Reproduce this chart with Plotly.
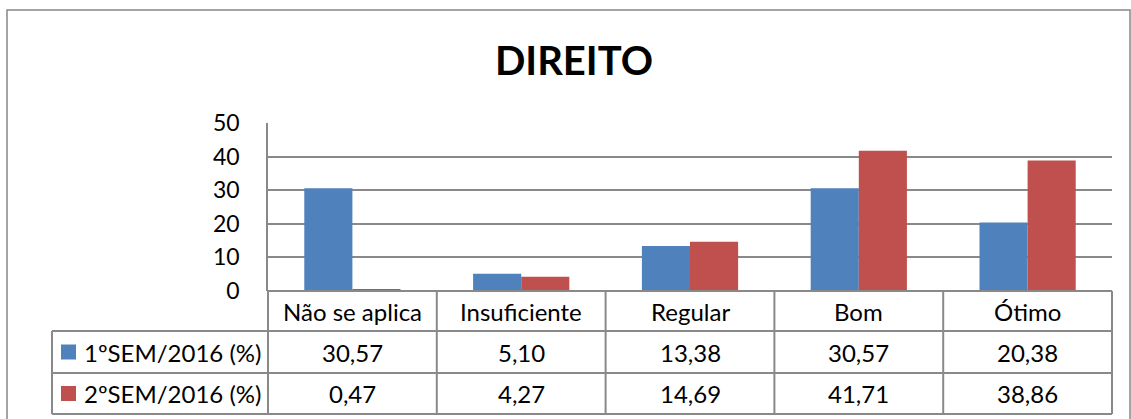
import plotly.graph_objects as go

categories = ["Não se aplica", "Insuficiente", "Regular", "Bom", "Ótimo"]
series_names = ["1ºSEM/2016 (%)", "2ºSEM/2016 (%)"]
sem1 = [30.57, 5.10, 13.38, 30.57, 20.38]
sem2 = [0.47, 4.27, 14.69, 41.71, 38.86]
y_ticks = [0, 10, 20, 30, 40, 50]
title_text = "DIREITO"

colors = ["#4F81BD", "#C0504D"]
W, H = 1131, 419
FONT = "Lato"
GRID = "#898989"
FS = 24


def px(x):
    return x / W


def py(y):
    return 1 - y / H


fig = go.Figure()
for name, vals, col in zip(series_names, [sem1, sem2], colors):
    fig.add_trace(go.Bar(x=categories, y=vals, name=name, marker_color=col,
                         marker_line_width=0))

plot_l, plot_r, plot_t, plot_b = 268, 1112, 123, 291
row1, row2, row3 = 331, 373, 414
tab_l = 52
col_edges = [plot_l + i * (plot_r - plot_l) / 5 for i in range(6)]

shapes = []
# outer chart border
shapes.append(dict(type="path", xref="paper", yref="paper",
                   path=f"M {px(7)},{py(430)} L {px(7)},{py(10)} L {px(1130)},{py(10)} L {px(1130)},{py(430)}",
                   line=dict(color="#868686", width=1.5)))
# table horizontal lines
for yy, x0 in [(plot_b, plot_l), (row1, tab_l), (row2, tab_l), (row3, tab_l)]:
    shapes.append(dict(type="line", xref="paper", yref="paper",
                       x0=px(x0), x1=px(plot_r), y0=py(yy), y1=py(yy),
                       line=dict(color=GRID, width=2)))
# table vertical lines
for xx in col_edges:
    shapes.append(dict(type="line", xref="paper", yref="paper",
                       x0=px(xx), x1=px(xx), y0=py(plot_b), y1=py(row3),
                       line=dict(color=GRID, width=2)))
shapes.append(dict(type="line", xref="paper", yref="paper",
                   x0=px(tab_l), x1=px(tab_l), y0=py(row1), y1=py(row3),
                   line=dict(color=GRID, width=2)))
# legend keys
for i, col in enumerate(colors):
    yc = (row1 + row2) / 2 if i == 0 else (row2 + row3) / 2
    shapes.append(dict(type="rect", xref="paper", yref="paper",
                       x0=px(61), x1=px(76), y0=py(yc - 7.5), y1=py(yc + 7.5),
                       fillcolor=col, line=dict(width=0)))

annotations = []
tfont = dict(family=FONT, size=FS, color="#000000")
for c in categories:
    annotations.append(dict(x=c, xref="x", y=py((plot_b + row1) / 2), yref="paper",
                            text=c, showarrow=False, font=tfont,
                            xanchor="center", yanchor="middle"))
for i, (name, vals) in enumerate(zip(series_names, [sem1, sem2])):
    yc = (row1 + row2) / 2 if i == 0 else (row2 + row3) / 2
    annotations.append(dict(x=px(82), xref="paper", y=py(yc), yref="paper",
                            text=name, showarrow=False, font=tfont,
                            xanchor="left", yanchor="middle"))
    for c, v in zip(categories, vals):
        annotations.append(dict(x=c, xref="x", y=py(yc), yref="paper",
                                text=f"{v:.2f}".replace(".", ","), showarrow=False,
                                font=tfont, xanchor="center", yanchor="middle"))

fig.update_layout(
    width=W, height=H, autosize=False,
    margin=dict(l=0, r=0, t=0, b=0, pad=0, autoexpand=False),
    paper_bgcolor="white", plot_bgcolor="white",
    barmode="group", bargap=0.43, bargroupgap=0,
    showlegend=False,
    title=dict(text=f"<b>{title_text}</b>", x=574 / W, xanchor="center",
               y=py(61), yanchor="middle", automargin=False,
               font=dict(family=FONT, size=40, color="#000000")),
    xaxis=dict(domain=[px(plot_l), px(plot_r)], range=[-0.5, 4.5],
               showticklabels=False, showgrid=False, zeroline=False,
               showline=False, ticks="", automargin=False),
    yaxis=dict(domain=[py(plot_b), py(plot_t)], range=[0, 50],
               tickvals=y_ticks, showgrid=True, gridcolor=GRID, gridwidth=1.5,
               zeroline=False, showline=True, linecolor=GRID, linewidth=1.5,
               ticks="outside", ticklen=0, ticklabelstandoff=22, automargin=False,
               tickfont=dict(family=FONT, size=23, color="#000000")),
    shapes=shapes,
    annotations=annotations,
)

fig.write_html("out.html", config={"displayModeBar": False},
               post_script="document.body.style.margin='0';")
